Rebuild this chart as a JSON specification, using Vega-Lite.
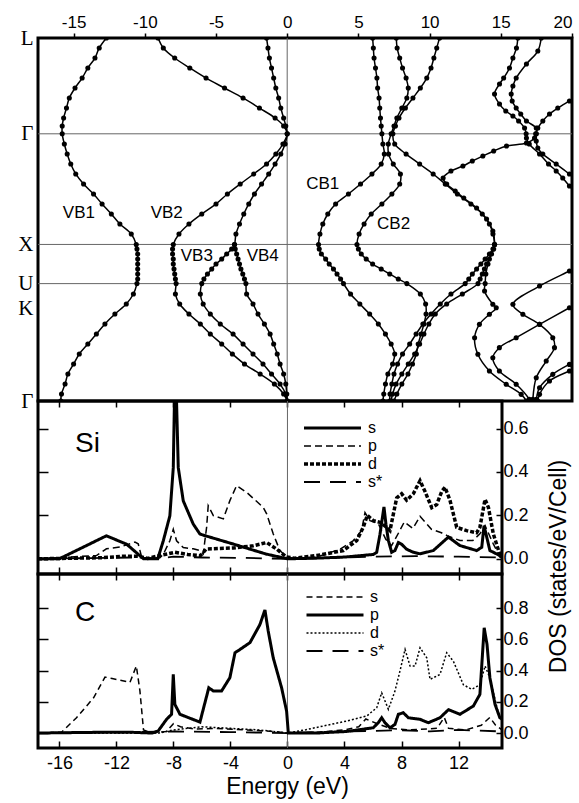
{
"$schema": "https://vega.github.io/schema/vega-lite/v6.json",
"background": "white",
"padding": {"left": 16, "top": 11, "right": 5, "bottom": 5},
"bounds": "flush",
"spacing": 0,
"resolve": {"scale": {"strokeDash": "independent", "strokeWidth": "independent"}, "legend": {"strokeDash": "independent", "strokeWidth": "independent"}},
"config": {
  "font": "Liberation Sans",
  "view": {"stroke": "black", "strokeWidth": 3},
  "axis": {"labelColor": "black", "tickColor": "black", "titleColor": "black", "titleFontWeight": "normal", "labelFont": "Liberation Sans", "titleFont": "Liberation Sans", "domain": false, "grid": false, "tickWidth": 1.5}
},
"datasets": {
"bands": [
{"b":"VB1","k":0,"E":-12.7},{"b":"VB1","k":0.09,"E":-13.2},{"b":"VB1","k":0.181,"E":-13.5},{"b":"VB1","k":0.271,"E":-14.0},{"b":"VB1","k":0.362,"E":-14.4},{"b":"VB1","k":0.452,"E":-14.9},{"b":"VB1","k":0.542,"E":-15.3},{"b":"VB1","k":0.633,"E":-15.5},{"b":"VB1","k":0.723,"E":-15.7},{"b":"VB1","k":0.795,"E":-15.8},{"b":"VB1","k":0.866,"E":-15.8},
{"b":"VB1","k":0.958,"E":-15.65},{"b":"VB1","k":1.049,"E":-15.45},{"b":"VB1","k":1.139,"E":-15.2},{"b":"VB1","k":1.229,"E":-14.85},{"b":"VB1","k":1.32,"E":-14.3},{"b":"VB1","k":1.41,"E":-13.6},{"b":"VB1","k":1.5,"E":-13.0},{"b":"VB1","k":1.591,"E":-12.35},{"b":"VB1","k":1.681,"E":-11.75},{"b":"VB1","k":1.772,"E":-10.95},{"b":"VB1","k":1.866,"E":-10.6},
{"b":"VB1","k":1.907,"E":-10.55},{"b":"VB1","k":1.952,"E":-10.5},{"b":"VB1","k":1.998,"E":-10.5},{"b":"VB1","k":2.043,"E":-10.5},{"b":"VB1","k":2.088,"E":-10.5},{"b":"VB1","k":2.133,"E":-10.5},{"b":"VB1","k":2.178,"E":-10.5},{"b":"VB1","k":2.22,"E":-10.55},
{"b":"VB1","k":2.314,"E":-10.8},{"b":"VB1","k":2.404,"E":-11.3},{"b":"VB1","k":2.495,"E":-12.1},{"b":"VB1","k":2.585,"E":-12.8},{"b":"VB1","k":2.676,"E":-13.4},{"b":"VB1","k":2.766,"E":-14.0},{"b":"VB1","k":2.856,"E":-14.6},{"b":"VB1","k":2.947,"E":-15.0},{"b":"VB1","k":3.037,"E":-15.4},{"b":"VB1","k":3.128,"E":-15.6},{"b":"VB1","k":3.218,"E":-15.85},{"b":"VB1","k":3.281,"E":-15.9},
{"b":"VB2","k":0,"E":-9.07},{"b":"VB2","k":0.09,"E":-8.7},{"b":"VB2","k":0.181,"E":-7.9},{"b":"VB2","k":0.271,"E":-6.84},{"b":"VB2","k":0.362,"E":-5.7},{"b":"VB2","k":0.452,"E":-4.4},{"b":"VB2","k":0.542,"E":-3.1},{"b":"VB2","k":0.633,"E":-1.95},{"b":"VB2","k":0.723,"E":-0.85},{"b":"VB2","k":0.795,"E":-0.25},{"b":"VB2","k":0.866,"E":0},
{"b":"VB2","k":0.958,"E":-0.3},{"b":"VB2","k":1.049,"E":-0.8},{"b":"VB2","k":1.139,"E":-1.45},{"b":"VB2","k":1.229,"E":-2.35},{"b":"VB2","k":1.32,"E":-3.3},{"b":"VB2","k":1.41,"E":-4.2},{"b":"VB2","k":1.5,"E":-5.0},{"b":"VB2","k":1.591,"E":-6.0},{"b":"VB2","k":1.681,"E":-6.9},{"b":"VB2","k":1.772,"E":-7.6},{"b":"VB2","k":1.866,"E":-8.0},
{"b":"VB2","k":1.907,"E":-8.05},{"b":"VB2","k":1.952,"E":-8.05},{"b":"VB2","k":1.998,"E":-8.0},{"b":"VB2","k":2.043,"E":-8.0},{"b":"VB2","k":2.088,"E":-7.95},{"b":"VB2","k":2.133,"E":-7.9},{"b":"VB2","k":2.178,"E":-7.85},{"b":"VB2","k":2.22,"E":-7.8},
{"b":"VB2","k":2.314,"E":-7.85},{"b":"VB2","k":2.404,"E":-7.55},{"b":"VB2","k":2.495,"E":-6.9},{"b":"VB2","k":2.585,"E":-6.1},{"b":"VB2","k":2.676,"E":-5.4},{"b":"VB2","k":2.766,"E":-4.6},{"b":"VB2","k":2.856,"E":-3.85},{"b":"VB2","k":2.947,"E":-3.0},{"b":"VB2","k":3.037,"E":-1.9},{"b":"VB2","k":3.128,"E":-0.9},{"b":"VB2","k":3.218,"E":-0.25},{"b":"VB2","k":3.281,"E":0},
{"b":"VB3","k":0,"E":-1.45},{"b":"VB3","k":0.09,"E":-1.35},{"b":"VB3","k":0.181,"E":-1.25},{"b":"VB3","k":0.271,"E":-1.1},{"b":"VB3","k":0.362,"E":-0.95},{"b":"VB3","k":0.452,"E":-0.8},{"b":"VB3","k":0.542,"E":-0.6},{"b":"VB3","k":0.633,"E":-0.45},{"b":"VB3","k":0.723,"E":-0.25},{"b":"VB3","k":0.795,"E":-0.1},{"b":"VB3","k":0.866,"E":0},
{"b":"VB3","k":0.958,"E":-0.15},{"b":"VB3","k":1.049,"E":-0.45},{"b":"VB3","k":1.139,"E":-0.85},{"b":"VB3","k":1.229,"E":-1.3},{"b":"VB3","k":1.32,"E":-1.8},{"b":"VB3","k":1.41,"E":-2.3},{"b":"VB3","k":1.5,"E":-2.7},{"b":"VB3","k":1.591,"E":-3.05},{"b":"VB3","k":1.681,"E":-3.35},{"b":"VB3","k":1.772,"E":-3.6},{"b":"VB3","k":1.866,"E":-3.7},
{"b":"VB3","k":1.907,"E":-3.9},{"b":"VB3","k":1.952,"E":-4.25},{"b":"VB3","k":1.998,"E":-4.6},{"b":"VB3","k":2.043,"E":-5.0},{"b":"VB3","k":2.088,"E":-5.3},{"b":"VB3","k":2.133,"E":-5.6},{"b":"VB3","k":2.178,"E":-5.85},{"b":"VB3","k":2.22,"E":-6.0},
{"b":"VB3","k":2.314,"E":-6.1},{"b":"VB3","k":2.404,"E":-5.9},{"b":"VB3","k":2.495,"E":-5.4},{"b":"VB3","k":2.585,"E":-4.7},{"b":"VB3","k":2.676,"E":-3.8},{"b":"VB3","k":2.766,"E":-3.1},{"b":"VB3","k":2.856,"E":-2.4},{"b":"VB3","k":2.947,"E":-1.7},{"b":"VB3","k":3.037,"E":-1.1},{"b":"VB3","k":3.128,"E":-0.5},{"b":"VB3","k":3.218,"E":-0.1},{"b":"VB3","k":3.281,"E":0},
{"b":"VB4","k":1.866,"E":-3.7},{"b":"VB4","k":1.907,"E":-3.65},{"b":"VB4","k":1.952,"E":-3.55},{"b":"VB4","k":1.998,"E":-3.45},{"b":"VB4","k":2.043,"E":-3.35},{"b":"VB4","k":2.088,"E":-3.25},{"b":"VB4","k":2.133,"E":-3.12},{"b":"VB4","k":2.178,"E":-3.0},{"b":"VB4","k":2.22,"E":-2.9},
{"b":"VB4","k":2.314,"E":-2.85},{"b":"VB4","k":2.404,"E":-2.4},{"b":"VB4","k":2.495,"E":-2.05},{"b":"VB4","k":2.585,"E":-1.6},{"b":"VB4","k":2.676,"E":-1.2},{"b":"VB4","k":2.766,"E":-0.95},{"b":"VB4","k":2.856,"E":-0.7},{"b":"VB4","k":2.947,"E":-0.5},{"b":"VB4","k":3.037,"E":-0.25},{"b":"VB4","k":3.128,"E":-0.1},{"b":"VB4","k":3.218,"E":-0.03},{"b":"VB4","k":3.281,"E":0},
{"b":"CB1","k":0,"E":6.0},{"b":"CB1","k":0.09,"E":6.05},{"b":"CB1","k":0.181,"E":6.1},{"b":"CB1","k":0.271,"E":6.2},{"b":"CB1","k":0.362,"E":6.3},{"b":"CB1","k":0.452,"E":6.35},{"b":"CB1","k":0.542,"E":6.45},{"b":"CB1","k":0.633,"E":6.5},{"b":"CB1","k":0.723,"E":6.55},{"b":"CB1","k":0.795,"E":6.6},{"b":"CB1","k":0.866,"E":6.65},
{"b":"CB1","k":0.958,"E":6.72},{"b":"CB1","k":1.049,"E":6.82},{"b":"CB1","k":1.139,"E":6.6},{"b":"CB1","k":1.229,"E":5.95},{"b":"CB1","k":1.32,"E":5.15},{"b":"CB1","k":1.41,"E":4.3},{"b":"CB1","k":1.5,"E":3.4},{"b":"CB1","k":1.591,"E":2.85},{"b":"CB1","k":1.681,"E":2.5},{"b":"CB1","k":1.772,"E":2.3},{"b":"CB1","k":1.866,"E":2.2},
{"b":"CB1","k":1.907,"E":2.25},{"b":"CB1","k":1.952,"E":2.4},{"b":"CB1","k":1.998,"E":2.7},{"b":"CB1","k":2.043,"E":2.95},{"b":"CB1","k":2.088,"E":3.25},{"b":"CB1","k":2.133,"E":3.5},{"b":"CB1","k":2.178,"E":3.75},{"b":"CB1","k":2.22,"E":3.95},
{"b":"CB1","k":2.314,"E":4.45},{"b":"CB1","k":2.404,"E":5.1},{"b":"CB1","k":2.495,"E":5.79},{"b":"CB1","k":2.585,"E":6.4},{"b":"CB1","k":2.676,"E":6.9},{"b":"CB1","k":2.766,"E":7.3},{"b":"CB1","k":2.856,"E":7.55},{"b":"CB1","k":2.947,"E":7.4},{"b":"CB1","k":3.037,"E":7.07},{"b":"CB1","k":3.128,"E":6.9},{"b":"CB1","k":3.218,"E":6.78},{"b":"CB1","k":3.281,"E":6.72},
{"b":"CB2","k":0,"E":7.66},{"b":"CB2","k":0.09,"E":7.72},{"b":"CB2","k":0.181,"E":7.9},{"b":"CB2","k":0.271,"E":8.1},{"b":"CB2","k":0.362,"E":8.35},{"b":"CB2","k":0.452,"E":8.5},{"b":"CB2","k":0.542,"E":8.4},{"b":"CB2","k":0.633,"E":8.05},{"b":"CB2","k":0.723,"E":7.7},{"b":"CB2","k":0.795,"E":7.5},{"b":"CB2","k":0.866,"E":7.3},
{"b":"CB2","k":0.958,"E":7.1},{"b":"CB2","k":1.049,"E":7.12},{"b":"CB2","k":1.139,"E":7.45},{"b":"CB2","k":1.229,"E":7.95},{"b":"CB2","k":1.32,"E":7.9},{"b":"CB2","k":1.41,"E":7.35},{"b":"CB2","k":1.5,"E":6.65},{"b":"CB2","k":1.591,"E":5.9},{"b":"CB2","k":1.681,"E":5.4},{"b":"CB2","k":1.772,"E":5.05},{"b":"CB2","k":1.866,"E":4.9},
{"b":"CB2","k":1.907,"E":5.0},{"b":"CB2","k":1.952,"E":5.2},{"b":"CB2","k":1.998,"E":5.55},{"b":"CB2","k":2.043,"E":6.0},{"b":"CB2","k":2.088,"E":6.6},{"b":"CB2","k":2.133,"E":7.2},{"b":"CB2","k":2.178,"E":7.8},{"b":"CB2","k":2.22,"E":8.4},
{"b":"CB2","k":2.314,"E":9.35},{"b":"CB2","k":2.404,"E":9.72},{"b":"CB2","k":2.495,"E":9.75},{"b":"CB2","k":2.585,"E":9.6},{"b":"CB2","k":2.676,"E":9.4},{"b":"CB2","k":2.766,"E":9.2},{"b":"CB2","k":2.856,"E":9.07},{"b":"CB2","k":2.947,"E":8.8},{"b":"CB2","k":3.037,"E":8.48},{"b":"CB2","k":3.128,"E":8.05},{"b":"CB2","k":3.218,"E":7.7},{"b":"CB2","k":3.281,"E":7.5},
{"b":"CB3","k":0,"E":10.7},{"b":"CB3","k":0.09,"E":10.5},{"b":"CB3","k":0.181,"E":10.3},{"b":"CB3","k":0.271,"E":10.1},{"b":"CB3","k":0.362,"E":9.8},{"b":"CB3","k":0.452,"E":9.35},{"b":"CB3","k":0.542,"E":8.83},{"b":"CB3","k":0.633,"E":8.3},{"b":"CB3","k":0.723,"E":7.85},{"b":"CB3","k":0.795,"E":7.6},{"b":"CB3","k":0.866,"E":7.42},
{"b":"CB3","k":0.958,"E":7.55},{"b":"CB3","k":1.049,"E":8.35},{"b":"CB3","k":1.139,"E":9.3},{"b":"CB3","k":1.229,"E":10.25},{"b":"CB3","k":1.32,"E":11.1},{"b":"CB3","k":1.41,"E":11.95},{"b":"CB3","k":1.5,"E":12.9},{"b":"CB3","k":1.591,"E":13.7},{"b":"CB3","k":1.681,"E":14.2},{"b":"CB3","k":1.772,"E":14.45},{"b":"CB3","k":1.866,"E":14.56},
{"b":"CB3","k":1.907,"E":14.45},{"b":"CB3","k":1.952,"E":14.2},{"b":"CB3","k":1.998,"E":13.9},{"b":"CB3","k":2.043,"E":13.6},{"b":"CB3","k":2.088,"E":13.3},{"b":"CB3","k":2.133,"E":13.0},{"b":"CB3","k":2.178,"E":12.75},{"b":"CB3","k":2.22,"E":12.5},
{"b":"CB3","k":2.314,"E":11.5},{"b":"CB3","k":2.404,"E":10.75},{"b":"CB3","k":2.495,"E":10.1},{"b":"CB3","k":2.585,"E":9.53},{"b":"CB3","k":2.676,"E":9.05},{"b":"CB3","k":2.766,"E":8.6},{"b":"CB3","k":2.856,"E":8.1},{"b":"CB3","k":2.947,"E":7.75},{"b":"CB3","k":3.037,"E":7.5},{"b":"CB3","k":3.128,"E":7.35},{"b":"CB3","k":3.218,"E":7.22},{"b":"CB3","k":3.281,"E":7.2},
{"b":"CB4","k":0.524,"E":20.4},{"b":"CB4","k":0.569,"E":19.82},{"b":"CB4","k":0.633,"E":19.0},{"b":"CB4","k":0.687,"E":18.42},{"b":"CB4","k":0.75,"E":17.95},{"b":"CB4","k":0.814,"E":17.6},{"b":"CB4","k":0.866,"E":17.45},{"b":"CB4","k":0.904,"E":17.37},{"b":"CB4","k":0.949,"E":16.8},{"b":"CB4","k":0.976,"E":15.4},{"b":"CB4","k":1.021,"E":14.5},{"b":"CB4","k":1.067,"E":13.74},{"b":"CB4","k":1.112,"E":13.0},{"b":"CB4","k":1.157,"E":12.34},{"b":"CB4","k":1.202,"E":11.5},{"b":"CB4","k":1.265,"E":10.95},{"b":"CB4","k":1.32,"E":11.2},{"b":"CB4","k":1.383,"E":11.8},{"b":"CB4","k":1.446,"E":12.4},{"b":"CB4","k":1.537,"E":13.3},{"b":"CB4","k":1.636,"E":14.0},{"b":"CB4","k":1.745,"E":14.44},{"b":"CB4","k":1.866,"E":14.56},
{"b":"CB4","k":1.907,"E":14.5},{"b":"CB4","k":1.952,"E":14.35},{"b":"CB4","k":1.998,"E":14.2},{"b":"CB4","k":2.043,"E":14.0},{"b":"CB4","k":2.088,"E":13.85},{"b":"CB4","k":2.133,"E":13.7},{"b":"CB4","k":2.178,"E":13.55},{"b":"CB4","k":2.22,"E":13.4},
{"b":"CB4","k":2.314,"E":12.3},{"b":"CB4","k":2.404,"E":11.2},{"b":"CB4","k":2.495,"E":10.4},{"b":"CB4","k":2.585,"E":9.95},{"b":"CB4","k":2.676,"E":9.6},{"b":"CB4","k":2.766,"E":9.3},{"b":"CB4","k":2.856,"E":8.95},{"b":"CB4","k":2.947,"E":8.5},{"b":"CB4","k":3.037,"E":8.05},{"b":"CB4","k":3.128,"E":7.65},{"b":"CB4","k":3.218,"E":7.4},{"b":"CB4","k":3.281,"E":7.3},
{"b":"A","k":1.866,"E":14.56},{"b":"A","k":1.952,"E":14.3},{"b":"A","k":2.043,"E":14.1},{"b":"A","k":2.133,"E":13.95},{"b":"A","k":2.22,"E":13.9},{"b":"A","k":2.287,"E":13.86},{"b":"A","k":2.407,"E":14.44},{"b":"A","k":2.438,"E":14.68},{"b":"A","k":2.497,"E":14.2},{"b":"A","k":2.588,"E":13.5},{"b":"A","k":2.709,"E":13.16},{"b":"A","k":2.859,"E":13.39},{"b":"A","k":3.01,"E":14.2},{"b":"A","k":3.13,"E":15.38},{"b":"A","k":3.221,"E":16.43},{"b":"A","k":3.281,"E":16.8},
{"b":"H1","k":0,"E":16.2},{"b":"H1","k":0.09,"E":16.1},{"b":"H1","k":0.181,"E":15.85},{"b":"H1","k":0.271,"E":15.61},{"b":"H1","k":0.362,"E":15.2},{"b":"H1","k":0.416,"E":14.91},{"b":"H1","k":0.506,"E":14.56},{"b":"H1","k":0.597,"E":14.91},{"b":"H1","k":0.66,"E":15.35},{"b":"H1","k":0.705,"E":15.85},{"b":"H1","k":0.75,"E":16.25},{"b":"H1","k":0.814,"E":16.67},{"b":"H1","k":0.866,"E":16.78},{"b":"H1","k":0.904,"E":16.8},{"b":"H1","k":0.958,"E":17.0},{"b":"H1","k":1.049,"E":17.72},{"b":"H1","k":1.139,"E":18.35},{"b":"H1","k":1.202,"E":18.89},{"b":"H1","k":1.265,"E":19.35},{"b":"H1","k":1.338,"E":19.82},{"b":"H1","k":1.41,"E":20.4},
{"b":"H2","k":0,"E":17.84},{"b":"H2","k":0.118,"E":17.6},{"b":"H2","k":0.235,"E":16.8},{"b":"H2","k":0.362,"E":16.08},{"b":"H2","k":0.434,"E":15.85},{"b":"H2","k":0.506,"E":15.73},{"b":"H2","k":0.569,"E":15.8},{"b":"H2","k":0.633,"E":16.08},{"b":"H2","k":0.687,"E":16.4},{"b":"H2","k":0.75,"E":16.8},{"b":"H2","k":0.814,"E":17.49},{"b":"H2","k":0.866,"E":17.5},{"b":"H2","k":0.931,"E":17.49},{"b":"H2","k":0.994,"E":17.6},{"b":"H2","k":1.049,"E":17.95},{"b":"H2","k":1.139,"E":18.89},{"b":"H2","k":1.229,"E":19.82},{"b":"H2","k":1.293,"E":20.4},
{"b":"B","k":2.061,"E":20.5},{"b":"B","k":2.106,"E":19.82},{"b":"B","k":2.242,"E":17.72},{"b":"B","k":2.407,"E":15.85},{"b":"B","k":2.497,"E":16.55},{"b":"B","k":2.588,"E":17.72},{"b":"B","k":2.709,"E":18.65},{"b":"B","k":2.799,"E":18.77},{"b":"B","k":2.92,"E":18.19},{"b":"B","k":3.071,"E":17.49},{"b":"B","k":3.266,"E":17.25},{"b":"B","k":3.281,"E":17.25},
{"b":"C","k":2.396,"E":20.4},{"b":"C","k":2.438,"E":19.82},{"b":"C","k":2.588,"E":17.72},{"b":"C","k":2.709,"E":16.08},{"b":"C","k":2.799,"E":14.9},{"b":"C","k":2.89,"E":14.44},{"b":"C","k":3.01,"E":14.9},{"b":"C","k":3.13,"E":16.08},{"b":"C","k":3.266,"E":17.0},{"b":"C","k":3.281,"E":17.05},
{"b":"D","k":2.92,"E":20.3},{"b":"D","k":2.95,"E":19.82},{"b":"D","k":3.04,"E":18.65},{"b":"D","k":3.161,"E":17.72},{"b":"D","k":3.266,"E":17.5},{"b":"D","k":3.281,"E":17.5},
{"b":"E","k":2.983,"E":20.3},{"b":"E","k":3.01,"E":19.82},{"b":"E","k":3.1,"E":18.42},{"b":"E","k":3.221,"E":17.72},{"b":"E","k":3.281,"E":17.6}
],
"si": [
{"orb":"s","E":-17.5,"dos":0},{"orb":"s","E":-16,"dos":0},{"orb":"s","E":-12.7,"dos":0.106},{"orb":"s","E":-11.28,"dos":0.067},{"orb":"s","E":-10.1,"dos":0},{"orb":"s","E":-9.1,"dos":0},{"orb":"s","E":-8.71,"dos":0.083},{"orb":"s","E":-8.25,"dos":0.198},{"orb":"s","E":-8.01,"dos":0.42},{"orb":"s","E":-7.87,"dos":0.95},{"orb":"s","E":-7.66,"dos":0.42},{"orb":"s","E":-7.31,"dos":0.267},{"orb":"s","E":-6.61,"dos":0.16},{"orb":"s","E":-6.14,"dos":0.114},{"orb":"s","E":-5.7,"dos":0.105},{"orb":"s","E":-3.8,"dos":0.068},{"orb":"s","E":-1.5,"dos":0.022},{"orb":"s","E":0,"dos":0},{"orb":"s","E":2,"dos":0.003},{"orb":"s","E":4,"dos":0.008},{"orb":"s","E":6.02,"dos":0.02},{"orb":"s","E":6.26,"dos":0.03},{"orb":"s","E":6.49,"dos":0.113},{"orb":"s","E":6.77,"dos":0.239},{"orb":"s","E":6.91,"dos":0.159},{"orb":"s","E":7.08,"dos":0.084},{"orb":"s","E":7.31,"dos":0.03},{"orb":"s","E":7.54,"dos":0.038},{"orb":"s","E":7.78,"dos":0.075},{"orb":"s","E":8.01,"dos":0.067},{"orb":"s","E":8.36,"dos":0.044},{"orb":"s","E":8.83,"dos":0.03},{"orb":"s","E":9.3,"dos":0.023},{"orb":"s","E":10.23,"dos":0.038},{"orb":"s","E":11.29,"dos":0.1},{"orb":"s","E":12.1,"dos":0.061},{"orb":"s","E":13.27,"dos":0.038},{"orb":"s","E":13.63,"dos":0.053},{"orb":"s","E":13.79,"dos":0.153},{"orb":"s","E":13.98,"dos":0.1},{"orb":"s","E":14.2,"dos":0.038},{"orb":"s","E":14.9,"dos":0.015},{"orb":"s","E":15.05,"dos":0.012},
{"orb":"p","E":-17.5,"dos":0},{"orb":"p","E":-13.4,"dos":0.015},{"orb":"p","E":-12.7,"dos":0.046},{"orb":"p","E":-11.75,"dos":0.054},{"orb":"p","E":-10.7,"dos":0.077},{"orb":"p","E":-10.47,"dos":0.069},{"orb":"p","E":-10.23,"dos":0.008},{"orb":"p","E":-9.5,"dos":0},{"orb":"p","E":-8.95,"dos":0.005},{"orb":"p","E":-8.71,"dos":0.021},{"orb":"p","E":-8.25,"dos":0.083},{"orb":"p","E":-8.01,"dos":0.136},{"orb":"p","E":-7.78,"dos":0.083},{"orb":"p","E":-7.31,"dos":0.052},{"orb":"p","E":-6.61,"dos":0.046},{"orb":"p","E":-6.14,"dos":0.038},{"orb":"p","E":-5.91,"dos":0.023},{"orb":"p","E":-5.67,"dos":0.146},{"orb":"p","E":-5.56,"dos":0.245},{"orb":"p","E":-5.2,"dos":0.199},{"orb":"p","E":-4.5,"dos":0.184},{"orb":"p","E":-4.04,"dos":0.268},{"orb":"p","E":-3.57,"dos":0.337},{"orb":"p","E":-2.86,"dos":0.306},{"orb":"p","E":-1.7,"dos":0.237},{"orb":"p","E":-1.46,"dos":0.207},{"orb":"p","E":-1.0,"dos":0.115},{"orb":"p","E":-0.53,"dos":0.038},{"orb":"p","E":-0.06,"dos":0.008},{"orb":"p","E":0.5,"dos":0.002},{"orb":"p","E":2.05,"dos":0.008},{"orb":"p","E":3.68,"dos":0.044},{"orb":"p","E":4.62,"dos":0.084},{"orb":"p","E":5.2,"dos":0.13},{"orb":"p","E":5.44,"dos":0.213},{"orb":"p","E":5.79,"dos":0.176},{"orb":"p","E":6.38,"dos":0.161},{"orb":"p","E":6.9,"dos":0.09},{"orb":"p","E":7.3,"dos":0.06},{"orb":"p","E":7.8,"dos":0.12},{"orb":"p","E":8.2,"dos":0.17},{"orb":"p","E":8.8,"dos":0.14},{"orb":"p","E":9.3,"dos":0.196},{"orb":"p","E":10.1,"dos":0.136},{"orb":"p","E":10.8,"dos":0.12},{"orb":"p","E":11.2,"dos":0.107},{"orb":"p","E":12.1,"dos":0.084},{"orb":"p","E":13.0,"dos":0.084},{"orb":"p","E":13.5,"dos":0.115},{"orb":"p","E":13.86,"dos":0.153},{"orb":"p","E":14.44,"dos":0.069},{"orb":"p","E":14.9,"dos":0.008},{"orb":"p","E":15.05,"dos":0.005},
{"orb":"d","E":-17.5,"dos":0},{"orb":"d","E":-13,"dos":0.005},{"orb":"d","E":-11.5,"dos":0.012},{"orb":"d","E":-10.5,"dos":0.012},{"orb":"d","E":-9.8,"dos":0.002},{"orb":"d","E":-8.95,"dos":0.015},{"orb":"d","E":-7.9,"dos":0.03},{"orb":"d","E":-7.0,"dos":0.02},{"orb":"d","E":-6.1,"dos":0.015},{"orb":"d","E":-5.7,"dos":0.045},{"orb":"d","E":-3.8,"dos":0.05},{"orb":"d","E":-2.4,"dos":0.06},{"orb":"d","E":-1.46,"dos":0.075},{"orb":"d","E":-0.76,"dos":0.045},{"orb":"d","E":-0.06,"dos":0.008},{"orb":"d","E":0.5,"dos":0.003},{"orb":"d","E":2.05,"dos":0.015},{"orb":"d","E":3.92,"dos":0.038},{"orb":"d","E":4.86,"dos":0.084},{"orb":"d","E":5.32,"dos":0.146},{"orb":"d","E":5.6,"dos":0.2},{"orb":"d","E":6.02,"dos":0.176},{"orb":"d","E":6.5,"dos":0.168},{"orb":"d","E":6.96,"dos":0.145},{"orb":"d","E":7.19,"dos":0.13},{"orb":"d","E":7.66,"dos":0.28},{"orb":"d","E":8.01,"dos":0.3},{"orb":"d","E":8.36,"dos":0.27},{"orb":"d","E":8.83,"dos":0.3},{"orb":"d","E":9.3,"dos":0.36},{"orb":"d","E":9.65,"dos":0.31},{"orb":"d","E":10.12,"dos":0.236},{"orb":"d","E":10.47,"dos":0.25},{"orb":"d","E":10.82,"dos":0.31},{"orb":"d","E":11.05,"dos":0.33},{"orb":"d","E":11.4,"dos":0.27},{"orb":"d","E":11.87,"dos":0.145},{"orb":"d","E":12.57,"dos":0.13},{"orb":"d","E":13.27,"dos":0.12},{"orb":"d","E":13.5,"dos":0.145},{"orb":"d","E":13.86,"dos":0.274},{"orb":"d","E":14.1,"dos":0.236},{"orb":"d","E":14.44,"dos":0.115},{"orb":"d","E":14.9,"dos":0.02},{"orb":"d","E":15.05,"dos":0.01},
{"orb":"s*","E":-17.5,"dos":0},{"orb":"s*","E":-14,"dos":0.003},{"orb":"s*","E":-11,"dos":0.006},{"orb":"s*","E":-9,"dos":0.002},{"orb":"s*","E":-8,"dos":0.01},{"orb":"s*","E":-6,"dos":0.006},{"orb":"s*","E":-3,"dos":0.004},{"orb":"s*","E":0,"dos":0},{"orb":"s*","E":3,"dos":0.004},{"orb":"s*","E":6,"dos":0.01},{"orb":"s*","E":9,"dos":0.012},{"orb":"s*","E":12,"dos":0.01},{"orb":"s*","E":15.05,"dos":0.006}
],
"c": [
{"orb":"s","E":-17.5,"dos":0},{"orb":"s","E":-15.85,"dos":0.005},{"orb":"s","E":-14.8,"dos":0.098},{"orb":"s","E":-13.6,"dos":0.226},{"orb":"s","E":-12.8,"dos":0.359},{"orb":"s","E":-12.3,"dos":0.35},{"orb":"s","E":-11.05,"dos":0.325},{"orb":"s","E":-10.6,"dos":0.43},{"orb":"s","E":-10.35,"dos":0.27},{"orb":"s","E":-10.1,"dos":0.02},{"orb":"s","E":-9.5,"dos":0},{"orb":"s","E":-8.5,"dos":0.01},{"orb":"s","E":-8.0,"dos":0.06},{"orb":"s","E":-7.5,"dos":0.04},{"orb":"s","E":-6.5,"dos":0.025},{"orb":"s","E":-5,"dos":0.03},{"orb":"s","E":-3,"dos":0.02},{"orb":"s","E":-1,"dos":0.01},{"orb":"s","E":0,"dos":0},{"orb":"s","E":2,"dos":0.005},{"orb":"s","E":4,"dos":0.02},{"orb":"s","E":5.0,"dos":0.04},{"orb":"s","E":5.5,"dos":0.09},{"orb":"s","E":6.3,"dos":0.06},{"orb":"s","E":7.2,"dos":0.03},{"orb":"s","E":8.5,"dos":0.02},{"orb":"s","E":10.5,"dos":0.03},{"orb":"s","E":11.0,"dos":0.1},{"orb":"s","E":11.3,"dos":0.03},{"orb":"s","E":12.5,"dos":0.02},{"orb":"s","E":13.6,"dos":0.05},{"orb":"s","E":14.2,"dos":0.1},{"orb":"s","E":14.6,"dos":0.05},{"orb":"s","E":15.05,"dos":0.02},
{"orb":"p","E":-17.5,"dos":0},{"orb":"p","E":-13,"dos":0.005},{"orb":"p","E":-11,"dos":0.005},{"orb":"p","E":-9.5,"dos":0},{"orb":"p","E":-9.07,"dos":0.013},{"orb":"p","E":-8.48,"dos":0.088},{"orb":"p","E":-8.13,"dos":0.12},{"orb":"p","E":-8.01,"dos":0.376},{"orb":"p","E":-7.9,"dos":0.184},{"orb":"p","E":-7.54,"dos":0.12},{"orb":"p","E":-6.14,"dos":0.07},{"orb":"p","E":-5.52,"dos":0.29},{"orb":"p","E":-5.2,"dos":0.27},{"orb":"p","E":-4.62,"dos":0.27},{"orb":"p","E":-4.04,"dos":0.355},{"orb":"p","E":-3.68,"dos":0.515},{"orb":"p","E":-3.33,"dos":0.536},{"orb":"p","E":-2.63,"dos":0.58},{"orb":"p","E":-1.93,"dos":0.696},{"orb":"p","E":-1.58,"dos":0.79},{"orb":"p","E":-1.35,"dos":0.654},{"orb":"p","E":-1.0,"dos":0.483},{"orb":"p","E":-0.41,"dos":0.29},{"orb":"p","E":-0.06,"dos":0.14},{"orb":"p","E":0.06,"dos":0},{"orb":"p","E":2.05,"dos":0},{"orb":"p","E":4.15,"dos":0.01},{"orb":"p","E":6.02,"dos":0.034},{"orb":"p","E":6.37,"dos":0.066},{"orb":"p","E":6.61,"dos":0.098},{"orb":"p","E":6.84,"dos":0.066},{"orb":"p","E":7.19,"dos":0.034},{"orb":"p","E":7.54,"dos":0.055},{"orb":"p","E":7.78,"dos":0.12},{"orb":"p","E":8.13,"dos":0.13},{"orb":"p","E":8.48,"dos":0.098},{"orb":"p","E":9.3,"dos":0.088},{"orb":"p","E":9.88,"dos":0.066},{"orb":"p","E":10.7,"dos":0.098},{"orb":"p","E":11.3,"dos":0.15},{"orb":"p","E":12.1,"dos":0.12},{"orb":"p","E":13.04,"dos":0.173},{"orb":"p","E":13.5,"dos":0.248},{"orb":"p","E":13.8,"dos":0.675},{"orb":"p","E":14.0,"dos":0.568},{"orb":"p","E":14.2,"dos":0.355},{"orb":"p","E":14.56,"dos":0.184},{"orb":"p","E":14.9,"dos":0.098},{"orb":"p","E":15.05,"dos":0.09},
{"orb":"d","E":-17.5,"dos":0},{"orb":"d","E":-9,"dos":0},{"orb":"d","E":-8,"dos":0.02},{"orb":"d","E":-6,"dos":0.04},{"orb":"d","E":-4,"dos":0.03},{"orb":"d","E":-2,"dos":0.02},{"orb":"d","E":0,"dos":0},{"orb":"d","E":1.28,"dos":0.021},{"orb":"d","E":4.15,"dos":0.077},{"orb":"d","E":5.56,"dos":0.109},{"orb":"d","E":6.26,"dos":0.162},{"orb":"d","E":6.61,"dos":0.258},{"orb":"d","E":7.08,"dos":0.152},{"orb":"d","E":7.54,"dos":0.269},{"orb":"d","E":7.89,"dos":0.397},{"orb":"d","E":8.25,"dos":0.536},{"orb":"d","E":8.6,"dos":0.43},{"orb":"d","E":8.95,"dos":0.43},{"orb":"d","E":9.3,"dos":0.547},{"orb":"d","E":9.77,"dos":0.483},{"orb":"d","E":10.0,"dos":0.344},{"orb":"d","E":10.7,"dos":0.376},{"orb":"d","E":11.17,"dos":0.515},{"orb":"d","E":11.64,"dos":0.46},{"orb":"d","E":12.34,"dos":0.31},{"orb":"d","E":12.92,"dos":0.28},{"orb":"d","E":13.5,"dos":0.31},{"orb":"d","E":13.86,"dos":0.43},{"orb":"d","E":14.2,"dos":0.355},{"orb":"d","E":14.7,"dos":0.162},{"orb":"d","E":14.9,"dos":0.098},{"orb":"d","E":15.05,"dos":0.08},
{"orb":"s*","E":-17.5,"dos":0},{"orb":"s*","E":-12,"dos":0.005},{"orb":"s*","E":-8,"dos":0.01},{"orb":"s*","E":-4,"dos":0.006},{"orb":"s*","E":0,"dos":0},{"orb":"s*","E":4,"dos":0.01},{"orb":"s*","E":8,"dos":0.018},{"orb":"s*","E":10,"dos":0.01},{"orb":"s*","E":12,"dos":0.02},{"orb":"s*","E":15.05,"dos":0.01}
]
},
"vconcat": [
{
  "width": 534, "height": 363,
  "resolve": {"axis": {"x": "independent", "y": "independent"}},
  "layer": [
    {"data": {"values": [{"E": 0}]},
     "mark": {"type": "rule", "color": "#666", "strokeWidth": 1},
     "encoding": {"x": {"field": "E", "type": "quantitative", "scale": {"domain": [-17.5, 20], "nice": false}, "axis": null}}},
    {"data": {"values": [{"k": 0.866}, {"k": 1.866}, {"k": 2.22}]},
     "mark": {"type": "rule", "color": "#666", "strokeWidth": 1},
     "encoding": {"y": {"field": "k", "type": "quantitative", "scale": {"domain": [0, 3.281], "reverse": true, "nice": false, "zero": false}, "axis": null}}},
    {"data": {"name": "bands"},
     "mark": {"type": "line", "color": "black", "strokeWidth": 1.5, "interpolate": "catmull-rom", "clip": true},
     "encoding": {
       "x": {"field": "E", "type": "quantitative", "scale": {"domain": [-17.5, 20], "nice": false},
             "axis": {"orient": "top", "title": null, "values": [-15,-10,-5,0,5,10,15,20], "labelExpr": "datum.value + ''", "tickSize": 5, "labelPadding": 2, "labelFontSize": 17, "labelFlush": true}},
       "y": {"field": "k", "type": "quantitative", "scale": {"domain": [0, 3.281], "reverse": true, "nice": false, "zero": false},
             "axis": {"orient": "left", "title": null, "values": [0, 0.866, 1.866, 2.22, 3.281], "ticks": false, "labelFont": "Liberation Serif", "labelFontSize": 21, "labelPadding": 5, "labelOverlap": false, "labelLineHeight": 25, "labelExpr": "datum.value < 0.4 ? 'L' : datum.value < 1.2 ? 'Γ' : datum.value < 2.0 ? 'X' : datum.value < 3.0 ? ['U','K'] : 'Γ'"}},
       "detail": {"field": "b", "type": "nominal"},
       "order": {"field": "k", "type": "quantitative"}
     }},
    {"data": {"name": "bands"},
     "mark": {"type": "circle", "color": "black", "size": 26, "opacity": 1, "clip": true},
     "encoding": {
       "x": {"field": "E", "type": "quantitative", "scale": {"domain": [-17.5, 20], "nice": false}, "axis": null},
       "y": {"field": "k", "type": "quantitative", "scale": {"domain": [0, 3.281], "reverse": true, "nice": false, "zero": false}, "axis": null}
     }},
    {"data": {"values": [
       {"E": -14.63, "k": 1.582, "label": "VB1"},
       {"E": -8.46, "k": 1.582, "label": "VB2"},
       {"E": -6.35, "k": 1.971, "label": "VB3"},
       {"E": -1.72, "k": 1.971, "label": "VB4"},
       {"E": 2.49, "k": 1.32, "label": "CB1"},
       {"E": 7.47, "k": 1.681, "label": "CB2"}]},
     "mark": {"type": "text", "fontSize": 17, "align": "center", "baseline": "middle", "color": "black"},
     "encoding": {
       "x": {"field": "E", "type": "quantitative", "scale": {"domain": [-17.5, 20], "nice": false}, "axis": null},
       "y": {"field": "k", "type": "quantitative", "scale": {"domain": [0, 3.281], "reverse": true, "nice": false, "zero": false}, "axis": null},
       "text": {"field": "label"}
     }}
  ]
},
{
  "width": 464, "height": 173,
  "resolve": {"axis": {"x": "independent", "y": "independent"}},
  "layer": [
    {"data": {"values": [{"E": 0}]},
     "mark": {"type": "rule", "color": "#666", "strokeWidth": 1},
     "encoding": {"x": {"field": "E", "type": "quantitative", "scale": {"domain": [-17.5, 15.05], "nice": false},
       "axis": {"orient": "bottom", "title": null, "values": [-16,-12,-8,-4,0,4,8,12], "labels": false, "tickSize": -7}}}},
    {"data": {"name": "si"},
     "mark": {"type": "line", "color": "black", "clip": true},
     "encoding": {
       "x": {"field": "E", "type": "quantitative", "scale": {"domain": [-17.5, 15.05], "nice": false},
             "axis": {"orient": "top", "title": null, "values": [-16,-12,-8,-4,0,4,8,12], "labels": false, "tickSize": -6}},
       "y": {"field": "dos", "type": "quantitative", "scale": {"domain": [-0.07, 0.727], "nice": false, "zero": false},
             "axis": {"orient": "right", "title": null, "values": [0, 0.2, 0.4, 0.6], "format": ".1f", "tickSize": -6, "labelPadding": 7, "labelFontSize": 18}},
       "strokeDash": {"field": "orb", "type": "nominal",
         "scale": {"domain": ["s","p","d","s*"], "range": [[1,0],[7,4],[4,2],[16,10]]},
         "legend": {"title": null, "orient": "none", "legendX": 264, "legendY": 18, "symbolType": "stroke", "symbolSize": 3249, "clipHeight": 18, "rowPadding": 0, "labelFontSize": 16, "labelOffset": 5, "symbolStrokeColor": "black", "padding": 0}},
       "strokeWidth": {"field": "orb", "type": "nominal",
         "scale": {"type": "ordinal", "domain": ["s","p","d","s*"], "range": [3, 1.5, 3.5, 1.8]},
         "legend": {"title": null, "orient": "none", "legendX": 264, "legendY": 18, "symbolType": "stroke", "symbolSize": 3249, "clipHeight": 18, "rowPadding": 0, "labelFontSize": 16, "labelOffset": 5, "symbolStrokeColor": "black", "padding": 0}},
       "order": {"field": "E", "type": "quantitative"}
     }},
    {"data": {"values": [{"E": -14.9, "dos": 0.53, "label": "Si"}]},
     "mark": {"type": "text", "fontSize": 28, "align": "left", "baseline": "middle", "color": "black"},
     "encoding": {
       "x": {"field": "E", "type": "quantitative", "scale": {"domain": [-17.5, 15.05], "nice": false}, "axis": null},
       "y": {"field": "dos", "type": "quantitative", "scale": {"domain": [-0.07, 0.727], "nice": false, "zero": false},
             "axis": {"orient": "left", "title": null, "values": [0, 0.2, 0.4, 0.6], "labels": false, "tickSize": -10}},
       "text": {"field": "label"}
     }}
  ]
},
{
  "width": 464, "height": 174,
  "resolve": {"axis": {"x": "independent", "y": "independent"}},
  "layer": [
    {"data": {"values": [{"E": 0}]},
     "mark": {"type": "rule", "color": "#666", "strokeWidth": 1},
     "encoding": {"x": {"field": "E", "type": "quantitative", "scale": {"domain": [-17.5, 15.05], "nice": false},
       "axis": {"orient": "bottom", "title": "Energy (eV)", "values": [-16,-12,-8,-4,0,4,8,12], "labelExpr": "datum.value + ''", "tickSize": -7, "labelPadding": 13, "labelFontSize": 18, "titleFontSize": 23, "titleX": 249, "titleY": 45, "titleAlign": "center", "titleBaseline": "alphabetic"}}}},
    {"data": {"name": "c"},
     "mark": {"type": "line", "color": "black", "clip": true},
     "encoding": {
       "x": {"field": "E", "type": "quantitative", "scale": {"domain": [-17.5, 15.05], "nice": false},
             "axis": {"orient": "top", "title": null, "values": [-16,-12,-8,-4,0,4,8,12], "labels": false, "tickSize": -6}},
       "y": {"field": "dos", "type": "quantitative", "scale": {"domain": [-0.096, 1.02], "nice": false, "zero": false},
             "axis": {"orient": "right", "title": "DOS (states/eV/Cell)", "values": [0, 0.2, 0.4, 0.6, 0.8], "format": ".1f", "tickSize": -6, "labelPadding": 7, "labelFontSize": 18, "titleFontSize": 23, "titleAngle": 270, "titleX": 56, "titleY": -8, "titleAlign": "center", "titleBaseline": "middle"}},
       "strokeDash": {"field": "orb", "type": "nominal",
         "scale": {"domain": ["s","p","d","s*"], "range": [[6,4],[1,0],[2,2],[16,10]]},
         "legend": {"title": null, "orient": "none", "legendX": 267, "legendY": 14, "symbolType": "stroke", "symbolSize": 3249, "clipHeight": 18, "rowPadding": 0, "labelFontSize": 16, "labelOffset": 5, "symbolStrokeColor": "black", "padding": 0}},
       "strokeWidth": {"field": "orb", "type": "nominal",
         "scale": {"type": "ordinal", "domain": ["s","p","d","s*"], "range": [1.5, 3, 1.5, 1.8]},
         "legend": {"title": null, "orient": "none", "legendX": 267, "legendY": 14, "symbolType": "stroke", "symbolSize": 3249, "clipHeight": 18, "rowPadding": 0, "labelFontSize": 16, "labelOffset": 5, "symbolStrokeColor": "black", "padding": 0}},
       "order": {"field": "E", "type": "quantitative"}
     }},
    {"data": {"values": [{"E": -14.9, "dos": 0.77, "label": "C"}]},
     "mark": {"type": "text", "fontSize": 28, "align": "left", "baseline": "middle", "color": "black"},
     "encoding": {
       "x": {"field": "E", "type": "quantitative", "scale": {"domain": [-17.5, 15.05], "nice": false}, "axis": null},
       "y": {"field": "dos", "type": "quantitative", "scale": {"domain": [-0.096, 1.02], "nice": false, "zero": false},
             "axis": {"orient": "left", "title": null, "values": [0, 0.2, 0.4, 0.6, 0.8], "labels": false, "tickSize": -10}},
       "text": {"field": "label"}
     }}
  ]
}
]
}
